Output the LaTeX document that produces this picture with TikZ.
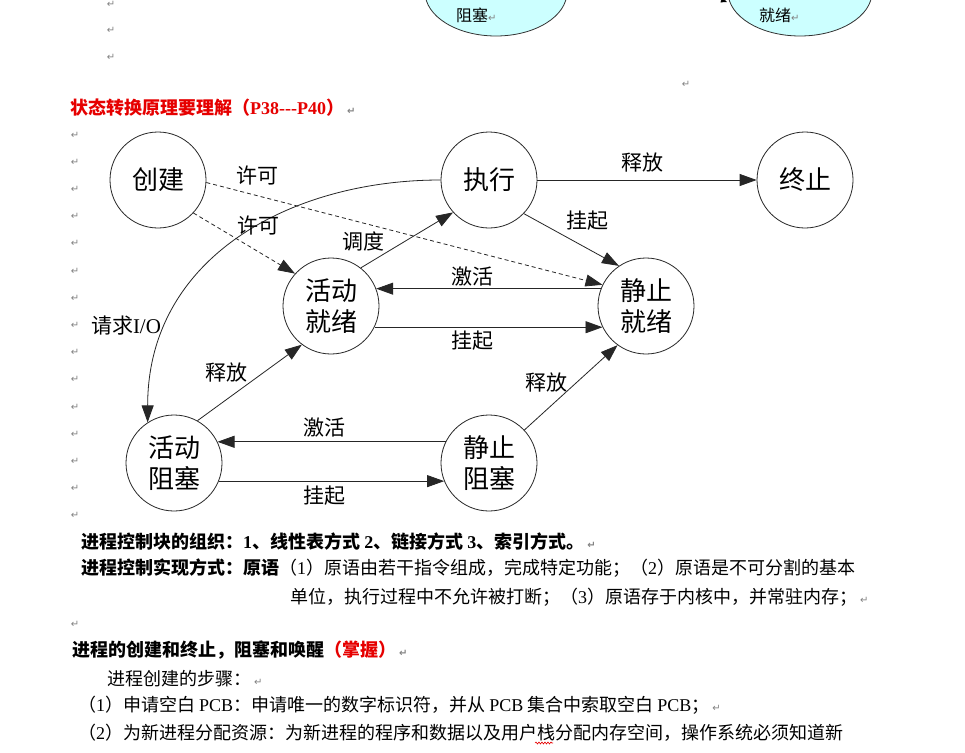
\documentclass[tikz,border=0pt]{standalone}
\usepackage{fontspec}
\setmainfont{Liberation Serif}
\newfontfamily\cjk{Noto Sans CJK SC}
\newfontfamily\symf{DejaVu Sans}
\usetikzlibrary{arrows.meta,decorations.pathmorphing}
\definecolor{hred}{RGB}{230,0,0}
\definecolor{lcyan}{RGB}{204,255,255}
\definecolor{pm}{RGB}{130,130,130}
\newcommand\lat[1]{{\rmfamily #1}}
\newcommand\pmk{{\symf\fontsize{10}{10}\selectfont\color{pm}↵}}
\begin{document}
\begin{tikzpicture}[x=1pt,y=-1pt,
  st/.style={circle,draw=black!85,line width=0.8pt,minimum size=96pt,inner sep=0pt,align=center,font=\cjk\fontsize{26}{31}\selectfont},
  lb/.style={font=\cjk\fontsize{21}{21}\selectfont,inner sep=0pt},
  con/.style={draw=black!85,line width=0.8pt,-{Triangle[length=17pt,width=12pt]}},
  dsh/.style={con,dash pattern=on 4pt off 3pt},
  body/.style={anchor=west,inner sep=0pt,font=\cjk\fontsize{18}{18}\selectfont},
  mk/.style={inner sep=0pt,font=\symf\fontsize{10}{10}\selectfont,text=pm},
  ell/.style={draw=black!80,line width=0.8pt,fill=lcyan}]
\clip (0,0) rectangle (965,752);
\fill[white] (0,0) rectangle (965,752);
% top partial ellipses
\draw[ell] (496,-8) ellipse [x radius=71pt, y radius=44pt];
\draw[ell] (800,-8) ellipse [x radius=72pt, y radius=44pt];
\node[anchor=west,inner sep=0pt,font=\cjk\fontsize{16}{16}\selectfont] (e1) at (456,15) {阻塞\pmk};
\node[anchor=west,inner sep=0pt,font=\cjk\fontsize{16}{16}\selectfont] (e2) at (759,15) {就绪\pmk};
\coordinate (ta) at (705,-6);
\coordinate (tb) at (727,2);
\draw[draw=black,line width=0.6pt,-{Triangle[length=6pt,width=5pt]}] (ta) -- (tb);
% paragraph marks
\node[mk] (t1) at (111,4) {↵};
\node[mk] (t2) at (111,30) {↵};
\node[mk] (t3) at (111,57) {↵};
\node[mk] (t4) at (686,84) {↵};
\foreach \i in {0,...,14} \node[mk] (m\i) at (75,{135+27.2*\i}) {↵};
\node[mk] (m15) at (75,624) {↵};
% heading
\node[body,text=hred] (hd) at (70,108) {\bfseries 状态转换原理要理解（\lat{P38{-}{-}{-}P40}）\,\pmk};
% states
\node[st] (cj) at (158,180) {创建};
\node[st] (zx) at (489,180) {执行};
\node[st] (zz) at (805,180) {终止};
\node[st] (hj) at (331,306) {活动\\就绪};
\node[st] (jj) at (646,306) {静止\\就绪};
\node[st] (hz) at (174,463) {活动\\阻塞};
\node[st] (jz) at (489,463) {静止\\阻塞};
% connectors
\draw[dsh] (cj.-3) -- (jj.154);
\draw[dsh] (cj.-43) -- (hj.138);
\draw[con] (zx.west) .. controls +(-150,0) and +(0,-165) .. (hz.123);
\draw[con] (hj.52) -- (zx.222);
\draw[con] (zx.east) -- (zz.west);
\draw[con] (zx.-44) -- (jj.124);
\draw[con] (jj.159) -- (hj.21);
\draw[con] (hj.-26) -- (jj.206);
\draw[con] (hz.61) -- (hj.233);
\draw[con] (jz.43) -- (jj.234);
\draw[con] (jz.154) -- (hz.26);
\draw[con] (hz.-22) -- (jz.202);
% labels
\node[lb] (a1) at (257,176) {许可};
\node[lb] (a2) at (258,226) {许可};
\node[lb] (a3) at (126,326) {请求\lat{I/O}};
\node[lb] (a4) at (363,241) {调度};
\node[lb] (a5) at (642,163) {释放};
\node[lb] (a6) at (587,221) {挂起};
\node[lb] (a7) at (472,277) {激活};
\node[lb] (a8) at (472,341) {挂起};
\node[lb] (a9) at (226,373) {释放};
\node[lb] (a10) at (546,383) {释放};
\node[lb] (a11) at (324,428) {激活};
\node[lb] (a12) at (324,496) {挂起};
% body text
\node[body] (b1) at (81,542) {\bfseries 进程控制块的组织：\lat{1}、线性表方式 \lat{2}、链接方式 \lat{3}、索引方式。\,\pmk};
\node[body] (b2) at (81,568) {\bfseries 进程控制实现方式：原语\mdseries （\lat{1}）原语由若干指令组成，完成特定功能；（\lat{2}）原语是不可分割的基本};
\node[body] (b3) at (290,597) {单位，执行过程中不允许被打断；（\lat{3}）原语存于内核中，并常驻内存；\,\pmk};
\node[body] (b4) at (72,650) {\bfseries 进程的创建和终止，阻塞和唤醒\textcolor{hred}{（掌握）}\,\pmk};
\node[body] (b5) at (107,679) {进程创建的步骤：\,\pmk};
\node[body] (b6) at (78,705) {（\lat{1}）申请空白 \lat{PCB}：申请唯一的数字标识符，并从 \lat{PCB} 集合中索取空白 \lat{PCB}；\,\pmk};
\node[body] (b7) at (78,733) {（\lat{2}）为新进程分配资源：为新进程的程序和数据以及用户栈分配内存空间，操作系统必须知道新};
\draw[hred,line width=0.6pt,decorate,decoration={snake,amplitude=1pt,segment length=3pt}] (535,743) -- (553,743);
\end{tikzpicture}
\end{document}
